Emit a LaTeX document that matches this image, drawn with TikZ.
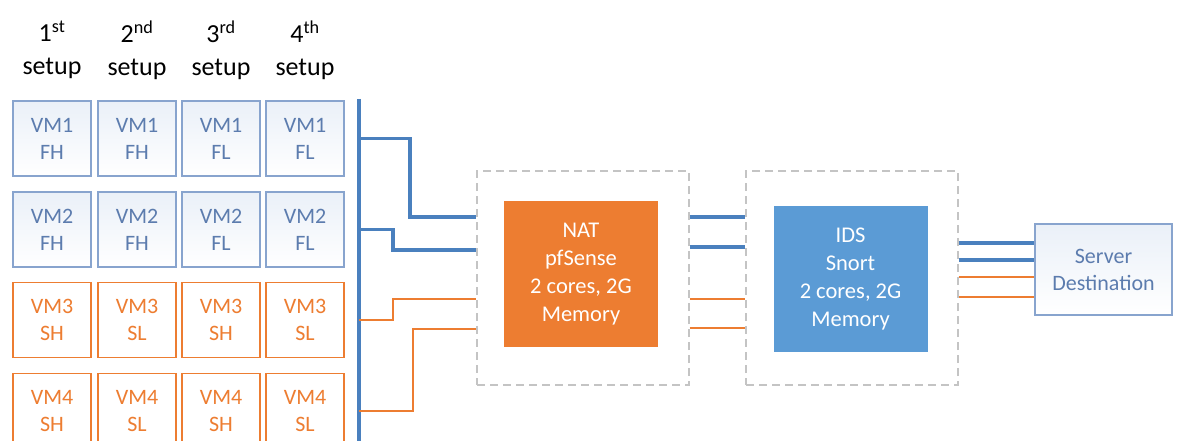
\documentclass[tikz,border=0pt]{standalone}
\usepackage{fontspec}
\setmainfont{Carlito}
\usetikzlibrary{positioning}

\definecolor{buslink}{RGB}{74,128,190}
\definecolor{orangelink}{RGB}{237,125,49}
\definecolor{vmborder}{RGB}{136,164,206}
\definecolor{vmtext}{RGB}{92,124,174}
\definecolor{vmfill}{RGB}{234,240,248}
\definecolor{natfill}{RGB}{237,125,49}
\definecolor{idsfill}{RGB}{91,155,213}
\definecolor{framegray}{RGB}{196,196,196}

\begin{document}
\begin{tikzpicture}[x=1pt, y=-1pt,
	vm/.style={draw, line width=1.2pt, minimum width=78pt, minimum height=75pt, inner sep=0pt, align=center, font=\fontsize{22}{27}\selectfont},
	vmblue/.style={vm, draw=vmborder, text=vmtext, top color=vmfill, bottom color=white},
	vmorange/.style={vm, draw=orangelink, text=orangelink, fill=white},
	frame/.style={draw=framegray, dash pattern=on 8pt off 5pt, line width=1.3pt, minimum width=212pt, minimum height=214pt},
	unitbox/.style={minimum width=154pt, minimum height=146pt, inner sep=0pt, text=white, align=center, font=\fontsize{22.5}{28}\selectfont},
	bluewire/.style={draw=buslink, line width=3.5pt},
	orangewire/.style={draw=orangelink, line width=1.6pt}]

	\useasboundingbox (0,0) rectangle (1182,441);

	% en-tetes des setups
	\foreach \x/\n/\s in {52/1/st, 137/2/nd, 221/3/rd, 305/4/th} {
		\node[align=center, font=\fontsize{26}{33}\selectfont] (head-\n) at (\x,50) {\n\textsuperscript{\s}\\setup};
	}

	% les VMs, colonne par colonne
	\foreach \x/\f/\s [count=\c] in {52/H/H, 137/H/L, 221/L/H, 305/L/L} {
		\node[vmblue] (vm-1-\c) at (\x,138.5) {VM1\\F\f};
		\node[vmblue] (vm-2-\c) at (\x,229.5) {VM2\\F\f};
		\node[vmorange] (vm-3-\c) at (\x,320) {VM3\\S\s};
		\node[vmorange] (vm-4-\c) at (\x,411) {VM4\\S\s};
	}

	\coordinate (bus-top) at (359,99);
	\coordinate (bus-bot) at (359,445);
	\draw[draw=buslink, line width=4pt] (bus-top) -- (bus-bot);

	\node[frame] (nat-frame) at (583,278) {};
	\node[frame] (ids-frame) at (852,278) {};
	\node[unitbox, fill=natfill] (nat) at (581,274) {NAT\\pfSense\\2 cores, 2G\\Memory};
	\node[unitbox, fill=idsfill] (ids) at (850.5,279) {IDS\\Snort\\2 cores, 2G\\Memory};
	\node[draw=vmborder, line width=1.2pt, top color=vmfill, bottom color=white, text=vmtext, minimum width=137pt, minimum height=91pt, align=center, font=\fontsize{22}{27}\selectfont] (server) at (1103.5,269.5) {Server\\Destination};

	% du bus vers le NAT
	\draw[bluewire] (vm-1-4 -| bus-top) -| (410,217) -- (nat-frame.west |- 0,217);
	\draw[bluewire] (vm-2-4 -| bus-top) -| (393,250) -- (nat-frame.west |- 0,250);
	\draw[orangewire] (vm-3-4 -| bus-top) -| (393,299) -- (nat-frame.west |- 0,299);
	\draw[orangewire] (vm-4-4 -| bus-top) -| (413,329) -- (nat-frame.west |- 0,329);

	% du NAT vers l'IDS
	\foreach \y/\w in {217/bluewire, 247/bluewire, 299/orangewire, 328/orangewire} {
		\draw[\w] (nat-frame.east |- 0,\y) -- (ids-frame.west |- 0,\y);
	}

	% de l'IDS vers le serveur
	\foreach \y/\w in {243/bluewire, 260/bluewire, 277/orangewire, 297/orangewire} {
		\draw[\w] (ids-frame.east |- 0,\y) -- (server.west |- 0,\y);
	}

\end{tikzpicture}
\end{document}
